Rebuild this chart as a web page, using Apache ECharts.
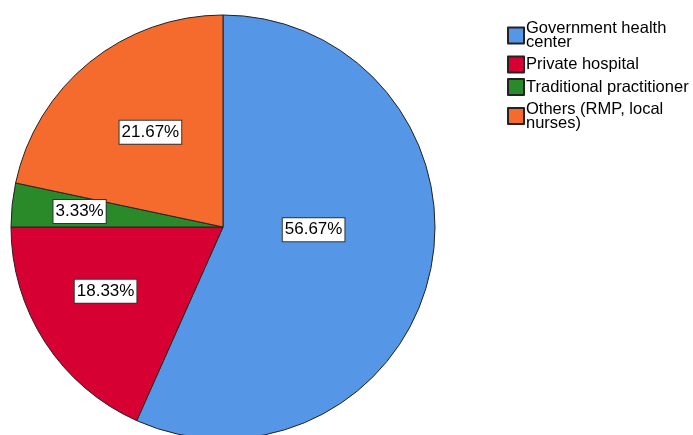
<!DOCTYPE html>
<html>
<head>
<meta charset="utf-8">
<script src="https://cdn.jsdelivr.net/npm/echarts@6/dist/echarts.min.js"></script>
<style>
  html, body { margin: 0; padding: 0; background: #fff; }
  #chart { width: 693px; height: 435px; }
</style>
</head>
<body>
<div id="chart"></div>
<script>
// Where respondents sought care (percent of respondents)
const categories = [
  'Government health\ncenter',
  'Private hospital',
  'Traditional practitioner',
  'Others (RMP, local\nnurses)'
];
const percents = [56.67, 18.33, 3.33, 21.67];
const colors = ['#5596E6', '#D60032', '#2A8A2A', '#F46B2D'];

// Nudges for the in-slice value boxes (pixels)
const labelShift = [[-16, -20], [-26, 5], [-35, -4], [-4, -10]];

const chart = echarts.init(document.getElementById('chart'), null, { renderer: 'canvas' });

chart.setOption({
  animation: false,
  legend: {
    orient: 'vertical',
    left: 507,
    top: 20,
    padding: 0,
    itemWidth: 16,
    itemHeight: 16,
    itemGap: 4.5,
    icon: 'rect',
    textStyle: {
      fontFamily: 'Liberation Sans, Arial, sans-serif',
      fontSize: 16.5,
      lineHeight: 14,
      color: '#000',
      padding: [0, 0, 0, -3]
    },
    selectedMode: false
  },
  series: [{
    type: 'pie',
    center: [223, 227],
    radius: 212,
    startAngle: 90,
    clockwise: true,
    silent: true,
    itemStyle: { borderColor: '#222', borderWidth: 1 },
    label: {
      show: true,
      position: 'inside',
      formatter: p => percents[p.dataIndex].toFixed(2) + '%',
      fontFamily: 'Liberation Sans, Arial, sans-serif',
      fontSize: 17,
      color: '#000',
      backgroundColor: '#fff',
      borderColor: '#333',
      borderWidth: 1,
      padding: [3, 2, 2, 2],
      lineHeight: 18
    },
    labelLine: { show: false },
    labelLayout: p => ({ dx: labelShift[p.dataIndex][0], dy: labelShift[p.dataIndex][1] }),
    data: categories.map((name, i) => ({
      name: name,
      value: percents[i],
      itemStyle: { color: colors[i] }
    }))
  }]
});
</script>
</body>
</html>
